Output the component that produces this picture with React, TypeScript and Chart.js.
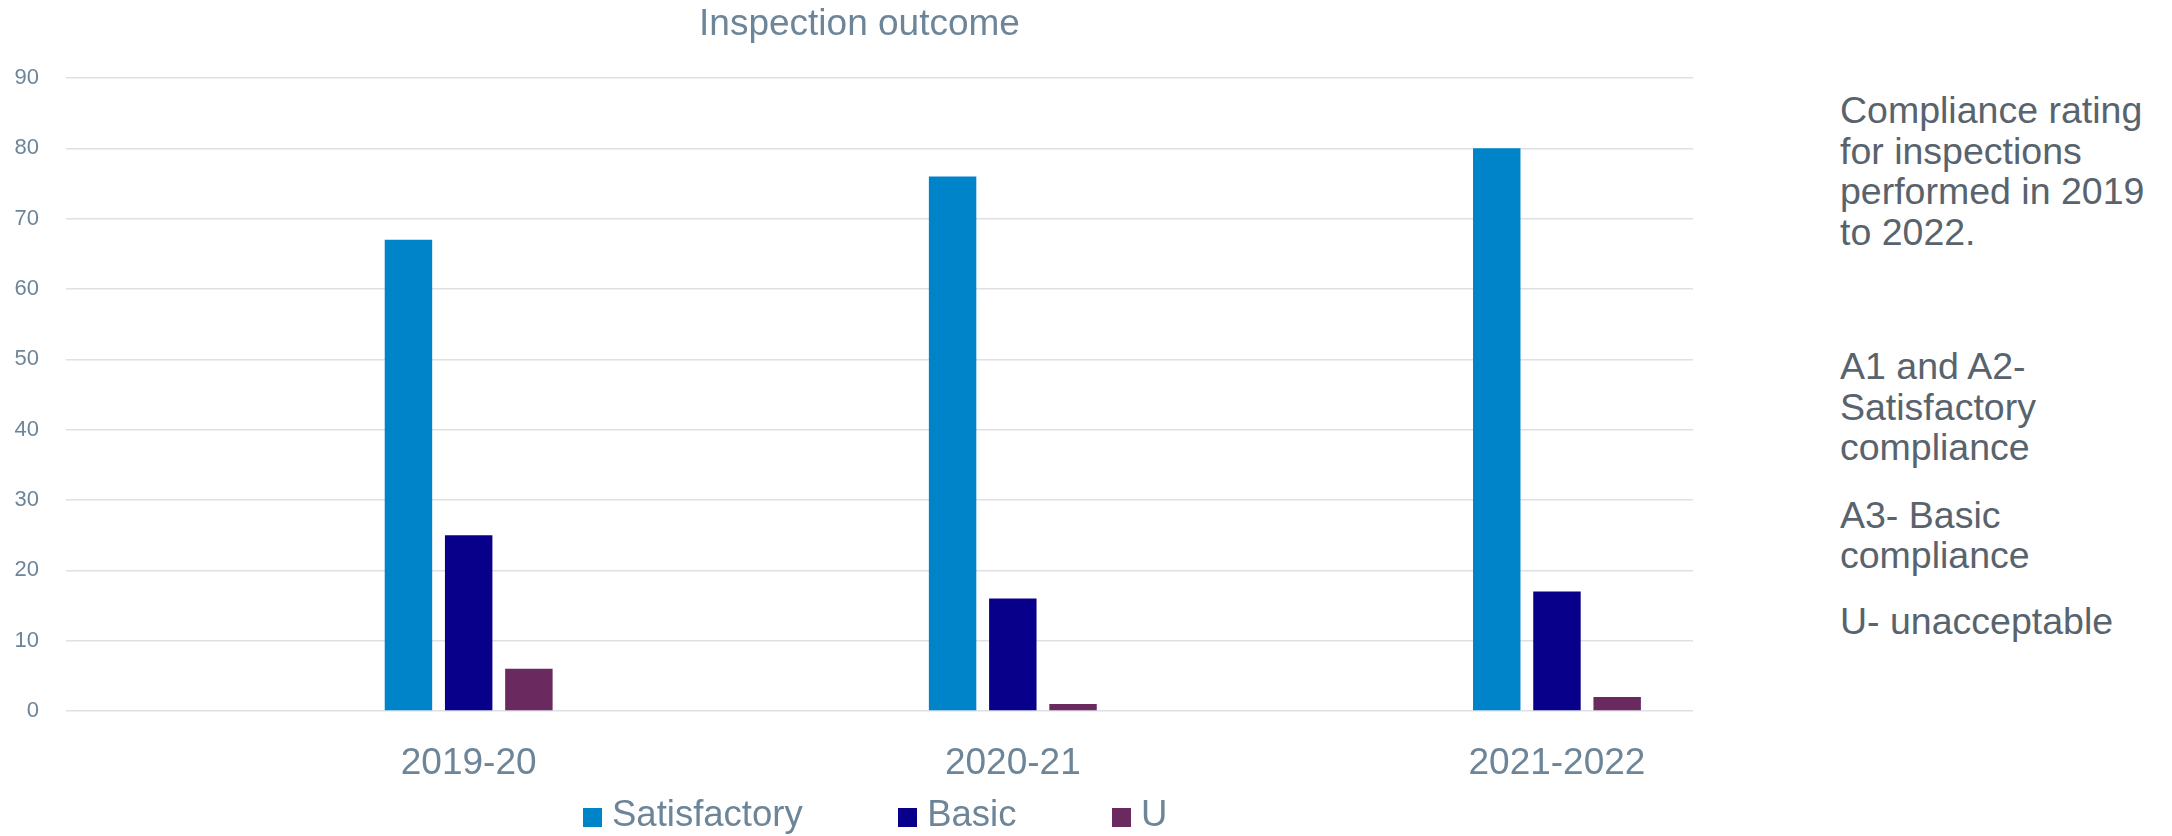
import React, { useEffect, useRef } from "react";
import { Chart, registerables } from "chart.js";

Chart.register(...registerables);

// ---- data ----
const CATEGORIES = ["2019-20", "2020-21", "2021-2022"];
const SERIES_NAMES = ["Satisfactory", "Basic", "U"];
const SATISFACTORY = [67, 76, 80];
const BASIC = [25, 16, 17];
const UNACCEPTABLE = [6, 1, 2];
const Y_MIN = 0;
const Y_MAX = 90;
const Y_STEP = 10;
const TITLE = "Inspection outcome";
const NOTE_PARAGRAPHS = [
  ["Compliance rating", "for inspections", "performed in 2019", "to 2022."],
  ["A1 and A2-", "Satisfactory", "compliance"],
  ["A3- Basic", "compliance"],
  ["U- unacceptable"],
];

// ---- styles ----
const SERIES_VALUES = [SATISFACTORY, BASIC, UNACCEPTABLE];
const SERIES_COLORS = ["#0084C9", "#08008A", "#6B2A5F"];
const FONT = '"Liberation Sans", Arial, Helvetica, sans-serif';
const AXIS_TEXT = "#6D8599";
const NOTE_TEXT = "#58636D";
const GRID = "#DCE1E6";
const NOTE_TOPS = [90.2, 346.2, 494.6, 601.2];

export default function App() {
  const canvasRef = useRef<HTMLCanvasElement | null>(null);

  useEffect(() => {
    const canvas = canvasRef.current;
    if (!canvas) return;
    const chart = new Chart(canvas, {
      type: "bar",
      data: {
        datasets: SERIES_NAMES.map((name, k) => ({
          label: name,
          data: SERIES_VALUES[k].map((v, i) => ({ x: i, y: v })),
          backgroundColor: SERIES_COLORS[k],
          borderWidth: 0,
          categoryPercentage: 0.332,
          barPercentage: 0.788,
        })),
      },
      options: {
        responsive: false,
        animation: false,
        layout: { padding: { left: 0, right: 23, top: 78, bottom: 0 } },
        plugins: {
          legend: { display: false },
          tooltip: { enabled: false },
          title: { display: false },
        },
        scales: {
          x: {
            type: "linear",
            min: -0.74,
            max: CATEGORIES.length - 0.75,
            offset: false,
            grid: { display: false, offset: false },
            border: { display: false },
            afterBuildTicks: (axis: any) => {
              axis.ticks = CATEGORIES.map((_, i) => ({ value: i }));
            },
            afterFit: (axis: any) => {
              axis.height = 125;
            },
            ticks: {
              autoSkip: false,
              maxRotation: 0,
              padding: 22.3,
              color: AXIS_TEXT,
              font: { family: FONT, size: 37, lineHeight: 1.2 },
              callback: (v: any) => CATEGORIES[v as number] ?? "",
            },
          },
          y: {
            min: Y_MIN,
            max: Y_MAX,
            grid: { color: GRID, lineWidth: 1.5, drawTicks: false },
            border: { display: false },
            afterFit: (axis: any) => {
              axis.width = 66;
            },
            ticks: {
              stepSize: Y_STEP,
              padding: 27,
              color: AXIS_TEXT,
              font: { family: FONT, size: 22 },
            },
          },
        },
      },
    });
    return () => chart.destroy();
  }, []);

  return (
    <div
      style={{
        position: "absolute",
        left: 0,
        top: 0,
        width: 2172,
        height: 836,
        overflow: "hidden",
        background: "#ffffff",
        fontFamily: FONT,
      }}
    >
      <canvas
        ref={canvasRef}
        width={1716}
        height={836}
        style={{ position: "absolute", left: 0, top: 0, width: 1716, height: 836 }}
      />
      {/* chart title */}
      <div
        style={{
          position: "absolute",
          left: 0,
          top: 2.5,
          width: 1719,
          textAlign: "center",
          fontSize: 37,
          lineHeight: "40px",
          color: AXIS_TEXT,
          whiteSpace: "nowrap",
        }}
      >
        {TITLE}
      </div>
      {/* legend */}
      <div
        style={{
          position: "absolute",
          left: 583,
          top: 796.4,
          display: "flex",
          alignItems: "flex-start",
          fontSize: 36.5,
          lineHeight: "36px",
          color: AXIS_TEXT,
          whiteSpace: "nowrap",
        }}
      >
        {SERIES_NAMES.map((name, k) => (
          <div
            key={name}
            style={{
              display: "flex",
              alignItems: "flex-start",
              marginRight: k < SERIES_NAMES.length - 1 ? 95.5 : 0,
            }}
          >
            <div
              style={{
                width: 19,
                height: 19,
                marginTop: 11.6,
                marginRight: 10,
                background: SERIES_COLORS[k],
              }}
            />
            <span>{name}</span>
          </div>
        ))}
      </div>
      {/* side notes */}
      {NOTE_PARAGRAPHS.map((lines, p) => (
        <div
          key={p}
          style={{
            position: "absolute",
            left: 1840,
            top: NOTE_TOPS[p],
            fontSize: 37.5,
            lineHeight: "40.5px",
            color: NOTE_TEXT,
            whiteSpace: "nowrap",
          }}
        >
          {lines.map((l, i) => (
            <div key={i}>{l}</div>
          ))}
        </div>
      ))}
    </div>
  );
}
